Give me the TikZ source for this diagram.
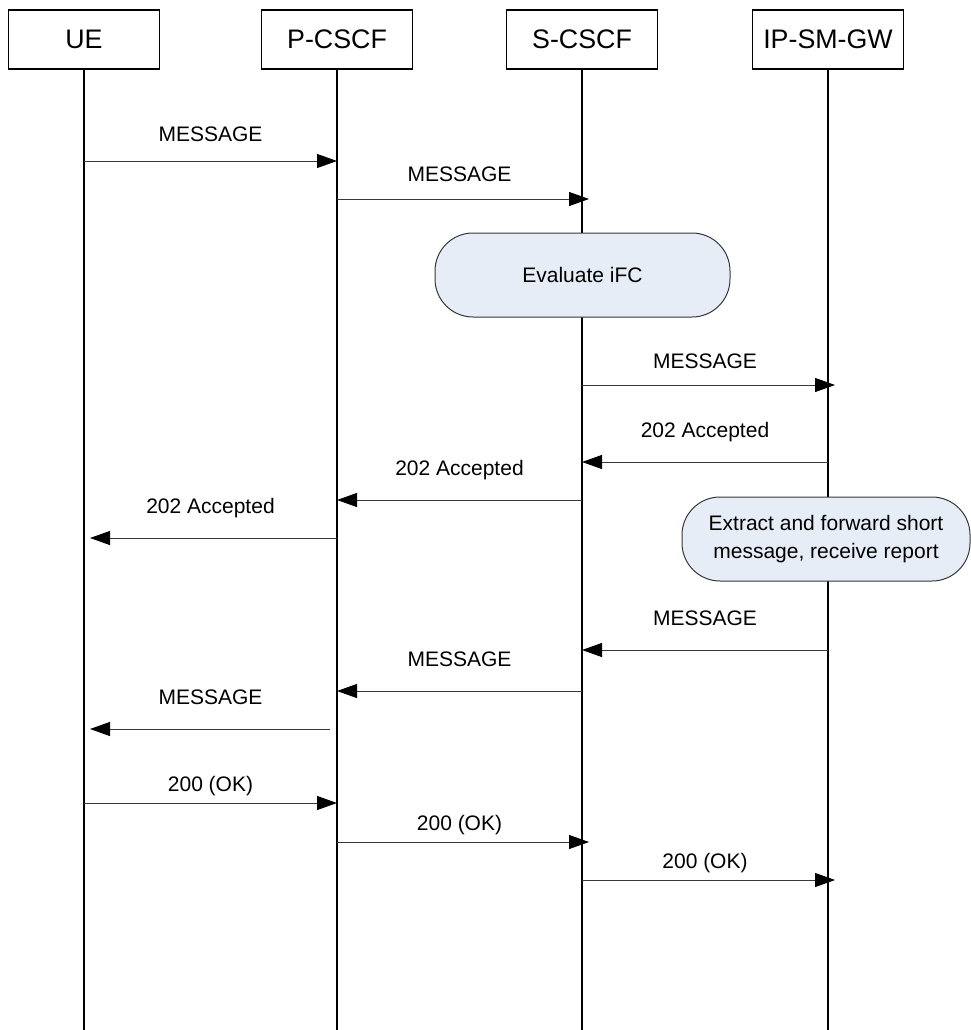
\documentclass[tikz,border=0pt]{standalone}
\usepackage{fontspec}
\setmainfont{Liberation Sans}
\usetikzlibrary{arrows.meta}

\definecolor{actfill}{RGB}{231,237,247}
\definecolor{msggray}{RGB}{55,55,55}

\begin{document}
\begin{tikzpicture}[x=1pt, y=-1pt,
    entity/.style={draw, line width=1.3pt, minimum width=151pt, minimum height=59pt, inner sep=0pt, font=\fontsize{26.8}{32}\selectfont},
    life/.style={line width=1.4pt},
    msg/.style={line width=0.9pt, draw=msggray, -{Triangle[length=20pt,width=14pt,color=black]}},
    lbl/.style={midway, inner sep=0pt, text depth=0pt, font=\fontsize{21}{25}\selectfont},
    activity/.style={draw=msggray, line width=1pt, fill=actfill, rounded corners=38pt, minimum height=84pt, align=center, font=\fontsize{21}{28}\selectfont}]
    \useasboundingbox (0,0) rectangle (971,1030);

    % entities
    \node[entity] (ue) at (84, 39.5) {UE};
    \node[entity] (pcscf) at (337, 39.5) {P-CSCF};
    \node[entity] (scscf) at (582, 39.5) {S-CSCF};
    \node[entity] (ipsmgw) at (828, 39.5) {IP-SM-GW};
    \coordinate (bottom) at (0, 1030);

    % lifelines
    \draw[life] (ue.south) -- (ue |- bottom);
    \draw[life] (pcscf.south) -- (pcscf |- bottom);
    \draw[life] (scscf.south) -- (scscf |- bottom);
    \draw[life] (ipsmgw.south) -- (ipsmgw |- bottom);

    % activities
    \node[activity, minimum width=295pt] (ifc) at (582.5, 275) {Evaluate iFC};
    \node[activity, minimum width=288pt] (extract) at (826, 539) {Extract and forward short\\message, receive report};

    % messages
    \draw[msg] (ue |- 0,161) -- node[lbl, above=19pt] {MESSAGE} (pcscf |- 0,161);
    \draw[msg, shorten >=-7pt] (pcscf |- 0,199) -- node[lbl, above=17pt] {MESSAGE} (scscf |- 0,199);
    \draw[msg, shorten >=-7pt] (scscf |- 0,385) -- node[lbl, above=16pt] {MESSAGE} (ipsmgw |- 0,385);
    \draw[msg] (ipsmgw |- 0,462) -- node[lbl, above=24pt] {202 Accepted} (scscf |- 0,462);
    \draw[msg] (scscf |- 0,500) -- node[lbl, above=24pt] {202 Accepted} (pcscf |- 0,500);
    \draw[msg, shorten >=6pt] (pcscf |- 0,538) -- node[lbl, above=24pt] {202 Accepted} (ue |- 0,538);
    \draw[msg] (ipsmgw |- 0,650) -- node[lbl, above=24pt] {MESSAGE} (scscf |- 0,650);
    \draw[msg] (scscf |- 0,691) -- node[lbl, above=24pt] {MESSAGE} (pcscf |- 0,691);
    \draw[msg, shorten <=7pt, shorten >=6pt] (pcscf |- 0,729) -- node[lbl, above=24pt] {MESSAGE} (ue |- 0,729);
    \draw[msg] (ue |- 0,803) -- node[lbl, above=11pt] {200 (OK)} (pcscf |- 0,803);
    \draw[msg, shorten >=-7pt] (pcscf |- 0,842) -- node[lbl, above=11pt] {200 (OK)} (scscf |- 0,842);
    \draw[msg, shorten >=-7pt] (scscf |- 0,880) -- node[lbl, above=11pt] {200 (OK)} (ipsmgw |- 0,880);
\end{tikzpicture}
\end{document}
